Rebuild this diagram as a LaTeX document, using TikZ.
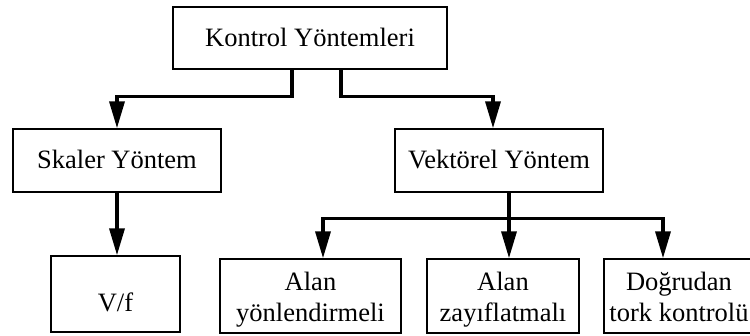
\documentclass[tikz,border=0pt]{standalone}
\usepackage{fontspec}
\setmainfont{Liberation Serif}
\usetikzlibrary{arrows.meta}
\newcommand{\topstrut}{\rule{0pt}{25.9pt}}
\newcommand{\botstrut}{\rule[-6pt]{0pt}{6pt}}
\newcommand{\highstrut}{\rule{0pt}{36pt}}
\begin{document}
\begin{tikzpicture}[x=1pt,y=-1pt,
  box/.style={draw, line width=1.4pt, inner sep=0pt,
    font=\fontsize{26.5}{30.5}\selectfont},
  one/.style={box, text height=17pt, text depth=0pt},
  two/.style={box, align=center},
  conn/.style={line width=3.5pt, line join=miter},
  arr/.style={-{Triangle[length=27pt,width=15pt]}}]
\useasboundingbox (0,0) rectangle (750,336);
\node[one, minimum width=274pt, minimum height=62pt] (top) at (310,38) {Kontrol Yöntemleri};
\node[one, minimum width=208pt, minimum height=63pt] (sk) at (117,160.5) {Skaler Yöntem};
\node[one, minimum width=208pt, minimum height=63pt] (vk) at (499,160.5) {Vektörel Yöntem};
\node[box, minimum width=129pt, minimum height=76pt] (vf) at (115.5,294) {\highstrut V/f};
\node[two, minimum width=181pt, minimum height=74pt] (ay) at (310.5,296) {\topstrut Alan\\yönlendirmeli\botstrut};
\node[two, minimum width=152pt, minimum height=74pt] (az) at (503,296) {\topstrut Alan\\zayıflatmalı\botstrut};
\node[two, minimum width=150pt, minimum height=74pt] (dt) at (679,296) {\topstrut Doğrudan\\tork kontrolü\botstrut};
% top level
\draw[conn,arr] ([xshift=-18pt]top.south) -- ++(0,27) -| (sk.north);
\draw[conn,arr] ([xshift=31pt]top.south) -- ++(0,27) -| ([xshift=-6pt]vk.north);
% skaler
\draw[conn,arr] (sk.south) -- (sk.south |- vf.north);
% vektorel
\draw[conn] ([xshift=10pt]vk.south) -- ++(0,26) coordinate (j);
\draw[conn,arr] (j) -- ([xshift=6pt]az.north);
\draw[conn,arr] (j) -| ([xshift=12.5pt]ay.north);
\draw[conn,arr] (j) -| ([xshift=-16pt]dt.north);
\end{tikzpicture}
\end{document}
